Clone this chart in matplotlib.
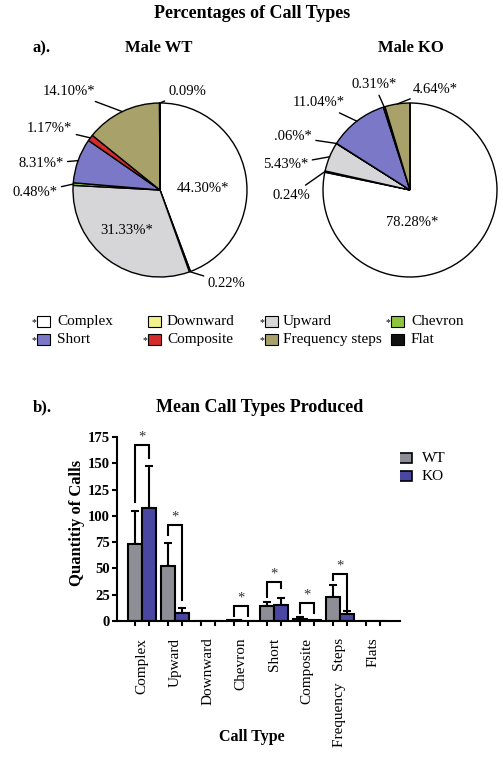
import matplotlib.pyplot as plt
import numpy as np
from matplotlib.patches import Rectangle

plt.rcParams['font.family'] = ['Liberation Serif', 'DejaVu Serif']

# pie data
categories = ['Complex', 'Downward', 'Upward', 'Chevron',
              'Short', 'Composite', 'Frequency steps', 'Flat']
pie_colors = ['#ffffff', '#f2f28c', '#d6d6d9', '#8cc63f',
              '#7b78c8', '#d42b2b', '#a8a26a', '#111111']
legend_star = [True, False, True, True, True, True, True, False]
wt_pct = [44.30, 0.22, 31.33, 0.48, 8.31, 1.17, 14.10, 0.09]
ko_pct = [78.28, 0.24, 5.43, 0.06, 11.04, 0.31, 4.64, 0.0]
wt_pct_labels = ['44.30%*', '0.22%', '31.33%*', '0.48%*', '8.31%*', '1.17%*', '14.10%*', '0.09%']
ko_pct_labels = ['78.28%*', '0.24%', '5.43%*', '.06%*', '11.04%*', '0.31%*', '4.64%*', None]

# bar data
bar_types = ['Complex', 'Upward', 'Downward', 'Chevron', 'Short',
             'Composite', 'Frequency   Steps', 'Flats']
wt_mean = [73, 52, 0.3, 0.8, 14, 2.2, 23, 0.1]
wt_err = [32, 22, 0, 0, 4.5, 1.3, 11, 0]
ko_mean = [107, 8, 0.2, 0.3, 15, 0.5, 6.6, 0]
ko_err = [40, 4, 0, 0, 6.5, 0, 3.2, 0]
wt_color = '#8e8e96'
ko_color = '#4a47a3'

# significance brackets (group index, top, wt leg end, ko leg end)
sig_groups = [0, 1, 3, 4, 5, 6]
bracket_top = [167, 91, 14, 37, 17, 45]
bracket_wt_end = [113, 82, 4.5, 23, 8, 39]
bracket_ko_end = [155, 20, 4.5, 31, 8, 10.5]

W, H = 503, 762
fig = plt.figure(figsize=(W / 100, H / 100), dpi=100)

# overlay axes in pixel coordinates for titles / legends
ov = fig.add_axes([0, 0, 1, 1])
ov.set_xlim(0, W)
ov.set_ylim(H, 0)
ov.axis('off')

R = 87  # pie radius in px


def pie_axes(cx, cy):
    half = 1.25 * R
    return fig.add_axes([(cx - half) / W, 1 - (cy + half) / H, 2 * half / W, 2 * half / H])


def draw_pie(ax, values, labels, layout):
    wedges, _ = ax.pie(values, colors=pie_colors, startangle=90, counterclock=False,
                       radius=1, wedgeprops=dict(edgecolor='black', linewidth=1))
    for i, w in enumerate(wedges):
        if labels[i] is None:
            continue
        x, y, ha, inside = layout[i]
        if inside:
            ax.text(x, y, labels[i], ha='center', va='center', fontsize=10.5)
        else:
            ang = np.deg2rad((w.theta1 + w.theta2) / 2)
            ax.annotate(labels[i], xy=(np.cos(ang), np.sin(ang)), xytext=(x, y),
                        ha=ha, va='center', fontsize=10.5,
                        arrowprops=dict(arrowstyle='-', color='black', lw=1,
                                        shrinkA=1, shrinkB=0))
    ax.set_xlim(-1.25, 1.25)
    ax.set_ylim(-1.25, 1.25)
    ax.set_aspect('equal')


wt_layout = [(0.49, 0.02, 'center', True),
             (0.55, -1.07, 'left', False),
             (-0.38, -0.46, 'center', True),
             (-1.18, -0.03, 'right', False),
             (-1.11, 0.30, 'right', False),
             (-1.01, 0.71, 'right', False),
             (-0.74, 1.13, 'right', False),
             (0.10, 1.13, 'left', False)]
ko_layout = [(0.02, -0.37, 'center', True),
             (-1.15, -0.06, 'right', False),
             (-1.17, 0.29, 'right', False),
             (-1.13, 0.61, 'right', False),
             (-0.75, 1.00, 'right', False),
             (-0.41, 1.21, 'center', False),
             (0.03, 1.16, 'left', False),
             None]

draw_pie(pie_axes(160, 190), wt_pct, wt_pct_labels, wt_layout)
draw_pie(pie_axes(410, 190), ko_pct, ko_pct_labels, ko_layout)

# titles
ov.text(252, 13, 'Percentages of Call Types', ha='center', va='center', fontsize=13, fontweight='bold')
ov.text(42, 48, 'a).', ha='center', va='center', fontsize=12, fontweight='bold')
ov.text(159, 48, 'Male WT', ha='center', va='center', fontsize=12, fontweight='bold')
ov.text(411, 48, 'Male KO', ha='center', va='center', fontsize=12, fontweight='bold')
ov.text(42, 407, 'b).', ha='center', va='center', fontsize=12, fontweight='bold')
ov.text(260, 408, 'Mean Call Types Produced', ha='center', va='center', fontsize=13, fontweight='bold')

# pie legend
box_x = [37, 148, 265, 391]
text_x = [57, 167, 283, 411]
row_y = [321.5, 339.5]
for i, cat in enumerate(categories):
    r, c = divmod(i, 4)
    yc = row_y[r]
    ov.add_patch(Rectangle((box_x[c], yc - 5.5), 13, 11, facecolor=pie_colors[i],
                           edgecolor='black', linewidth=0.8))
    if legend_star[i]:
        ov.text(box_x[c] - 0.5, yc + 1, '*', ha='right', va='center', fontsize=7)
    ov.text(text_x[c], yc, cat, ha='left', va='center', fontsize=11)

# bar chart
ax = fig.add_axes([117 / W, 1 - 621 / H, 283 / W, 184 / H])
x = np.arange(len(bar_types))
w = 0.42
wt_mean = np.array(wt_mean, float)
ko_mean = np.array(ko_mean, float)
wt_err = np.array(wt_err, float)
ko_err = np.array(ko_err, float)

for xs, m, e, col in [(x - w / 2, wt_mean, wt_err, wt_color), (x + w / 2, ko_mean, ko_err, ko_color)]:
    ax.bar(xs, m, w, color=col, edgecolor='black', linewidth=1.5, zorder=2)
    mask = e > 0
    ax.errorbar(xs[mask], m[mask], yerr=[np.zeros(mask.sum()), e[mask]], fmt='none',
                ecolor='black', elinewidth=1.5, capsize=3.2, capthick=1.5, zorder=1)

for g, top, lw_end, rw_end in zip(sig_groups, bracket_top, bracket_wt_end, bracket_ko_end):
    xl, xr = g - w / 2, g + w / 2
    ax.plot([xl, xl, xr, xr], [lw_end, top, top, rw_end], color='black', lw=1.5,
            solid_joinstyle='miter', zorder=3)
    ax.text(g, top + 1.5, '*', ha='center', va='bottom', fontsize=10.5, color='#333333')

ax.set_xlim(-0.76, 7.82)
ax.set_ylim(0, 175)
ax.set_yticks(np.arange(0, 176, 25))
ax.set_xticks(np.sort(np.r_[x - w / 2, x + w / 2]))
ax.set_xticklabels([])
ax.set_xticks(x, bar_types, minor=True, rotation=90, fontsize=11)
ax.tick_params(axis='x', which='minor', length=0, pad=12)
ax.tick_params(axis='x', which='major', length=3.6, width=1.5)
ax.tick_params(axis='y', length=3.6, width=1.5, pad=1.5, labelsize=10.5)
plt.setp(ax.get_yticklabels(), fontweight='bold')
for s in ['top', 'right']:
    ax.spines[s].set_visible(False)
for s in ['left', 'bottom']:
    ax.spines[s].set_linewidth(1.5)

ov.text(77, 523, 'Quantitiy of Calls', ha='center', va='center', rotation=90,
        fontsize=12, fontweight='bold')
ov.text(252, 737, 'Call Type', ha='center', va='center', fontsize=11.5, fontweight='bold')

# WT / KO legend
for yc, lab, col in [(458, 'WT', wt_color), (476, 'KO', ko_color)]:
    ov.add_patch(Rectangle((390, yc - 5), 22, 10, facecolor=col, edgecolor='black', linewidth=1.2))
    ov.text(422, yc, lab, ha='left', va='center', fontsize=11)

fig.savefig('out.png', dpi=100)
